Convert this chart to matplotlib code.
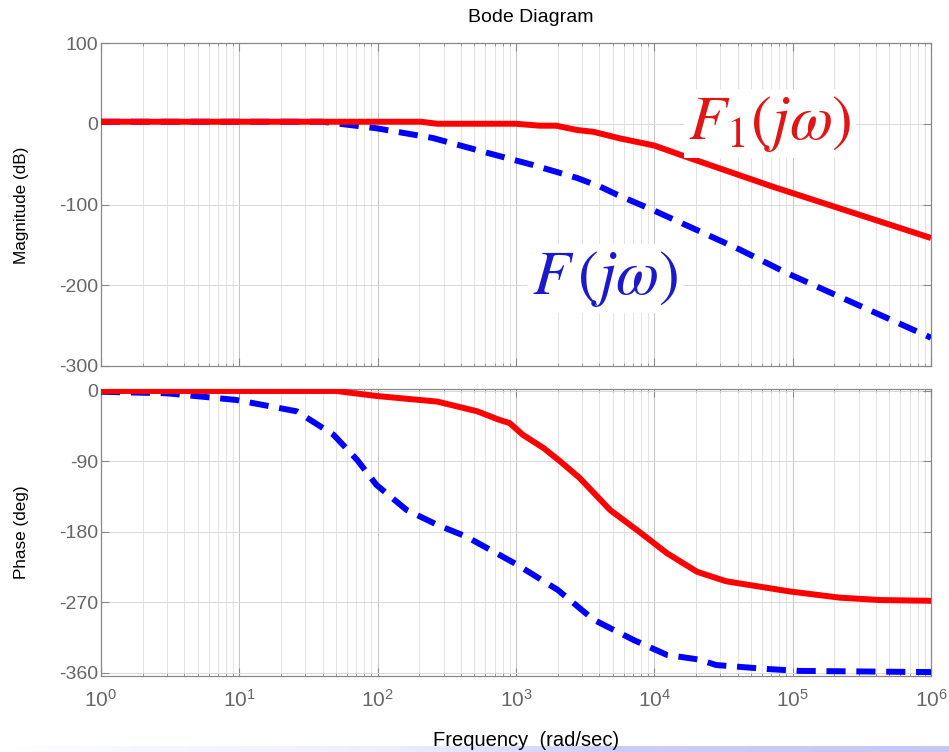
import numpy as np
import matplotlib
matplotlib.use("Agg")
import matplotlib.pyplot as plt
from matplotlib.ticker import LogLocator, NullFormatter, FixedLocator

plt.rcParams['font.family'] = ['Liberation Sans', 'DejaVu Sans']
plt.rcParams['axes.unicode_minus'] = False

# ---------------- data ----------------
# F1(jw) magnitude (red, solid)
w_mag_f1 = [1, 204, 270, 1000, 1480, 1950, 2750, 3630, 5600, 10000, 17000, 72000, 1e6]
mag_f1 = [2.5, 2.5, 0, 0, -2.4, -2.4, -7.7, -10, -18, -27, -41, -78, -141.5]

# F(jw) magnitude (blue, dashed)
w_mag_f = [1, 40, 50, 98, 250, 620, 1320, 2750, 4070, 5400, 9800, 41700, 91000, 1e6]
mag_f = [2.5, 2.5, 0.5, -5.6, -17.6, -36, -51, -67, -78, -88, -107, -156, -185, -265]

# F1(jw) phase (red, solid)
w_ph_f1 = [1, 50, 98, 270, 525, 760, 900, 1120, 1585, 2090, 2880, 4790, 7940,
           12300, 20400, 33000, 95000, 220000, 430000, 1e6]
ph_f1 = [0, 0, -6.4, -13.6, -26, -37, -41, -56, -73, -90, -111, -152, -181,
         -207, -231, -243, -256, -264, -267, -268]

# F(jw) phase (blue, dashed)
w_ph_f = [1, 3, 9.5, 26, 48, 71, 98, 162, 270, 437, 1000, 2000, 3630, 7080,
          12300, 21000, 28000, 65000, 112000, 1e6]
ph_f = [-1, -3, -11.5, -26, -56, -88, -120, -152, -171, -186, -221, -254, -292, -318,
        -337, -343, -350, -355, -357.5, -359]

mag_ticks = [-300, -200, -100, 0, 100]
ph_ticks = [-360, -270, -180, -90, 0]

label_f1 = r'$F_1(j\omega)$'
label_f = r'$F\,(j\omega)$'
label_f1_pos = (68600, 0)
label_f_pos = (4400, -192)

# ---------------- figure ----------------
W, H = 949, 752
fig = plt.figure(figsize=(W / 100, H / 100), dpi=100)
ax1 = fig.add_axes([101 / W, 1 - 366 / H, 830 / W, 323 / H])
ax2 = fig.add_axes([101 / W, 1 - 676 / H, 830 / W, 287 / H])

red = '#ff0000'
blue = '#0000ff'
LW = 4.3

for ax in (ax1, ax2):
    ax.set_xscale('log')
    ax.set_xlim(1, 1e6)
    ax.xaxis.set_major_locator(LogLocator(base=10, numticks=20))
    ax.xaxis.set_minor_locator(LogLocator(base=10, subs=range(2, 10), numticks=20))
    ax.xaxis.set_minor_formatter(NullFormatter())
    ax.grid(which='major', axis='x', color='#c4c4c4', lw=0.7, zorder=0)
    ax.grid(which='minor', axis='x', color='#dedede', lw=0.6, zorder=0)
    ax.grid(which='major', axis='y', color='#d8d8d8', lw=0.7, zorder=0)
    ax.set_axisbelow(True)
    for s in ax.spines.values():
        s.set_color('#888888')
        s.set_linewidth(0.9)
    ax.tick_params(which='both', direction='in', top=True, right=True,
                   color='#888888', labelcolor='#666666', labelsize=14)
    ax.tick_params(which='major', length=6, width=0.8)
    ax.tick_params(which='minor', length=2.5, width=0.6)
    ax.tick_params(axis='y', pad=2)

# magnitude
ax1.plot(w_mag_f, mag_f, color=blue, lw=LW, dashes=(3.2, 1.8), dash_capstyle='butt', zorder=3)
ax1.plot(w_mag_f1, mag_f1, color=red, lw=LW, solid_capstyle='butt', zorder=3)
ax1.set_ylim(-300, 100)
ax1.yaxis.set_major_locator(FixedLocator(mag_ticks))
ax1.tick_params(axis='x', labelbottom=False)

# phase
ax2.plot(w_ph_f, ph_f, color=blue, lw=LW, dashes=(3.2, 1.8), dash_capstyle='butt', zorder=3)
ax2.plot(w_ph_f1, ph_f1, color=red, lw=LW, solid_capstyle='butt', zorder=3)
ax2.set_ylim(-364, 2.5)
ax2.yaxis.set_major_locator(FixedLocator(ph_ticks))
ax2.tick_params(axis='x', pad=9, labelsize=15)

# curve labels
ax1.text(*label_f1_pos, label_f1, color='#e01515', fontsize=45, math_fontfamily='stix',
         ha='center', va='center', zorder=6,
         bbox=dict(facecolor='white', edgecolor='none', pad=3))
ax1.text(*label_f_pos, label_f, color='#1a1acc', fontsize=45, math_fontfamily='stix',
         ha='center', va='center', zorder=6,
         bbox=dict(facecolor='white', edgecolor='none', pad=3))

# texts
fig.text(531 / W, 1 - 17 / H, 'Bode Diagram', ha='center', va='center', fontsize=14, color='black')
fig.text(526 / W, 1 - 740 / H, 'Frequency  (rad/sec)', ha='center', va='center', fontsize=14.5, color='black')
fig.text(22 / W, 1 - 205 / H, 'Magnitude (dB)', rotation=90, ha='center', va='center', fontsize=12.3)
fig.text(22 / W, 1 - 532 / H, 'Phase (deg)', rotation=90, ha='center', va='center', fontsize=12.3)

# decorative lavender band at the very bottom
band = fig.add_axes([0, 0, 1, 6 / H])
band.axis('off')
xs = np.linspace(0, 1, W)
stops_x = [0, 0.13, 0.42, 0.65, 1.0]
stops_c = np.array([[1, 1, 1], [0.97, 0.97, 1.0], [0.93, 0.93, 1.0], [0.80, 0.80, 0.97], [0.78, 0.78, 0.96]])
grad = np.stack([np.interp(xs, stops_x, stops_c[:, k]) for k in range(3)], axis=-1)[None, :, :]
band.imshow(grad, aspect='auto', extent=(0, 1, 0, 1))
band.set_xlim(0, 1)
band.set_ylim(0, 1)

fig.savefig('out.png', dpi=100)
